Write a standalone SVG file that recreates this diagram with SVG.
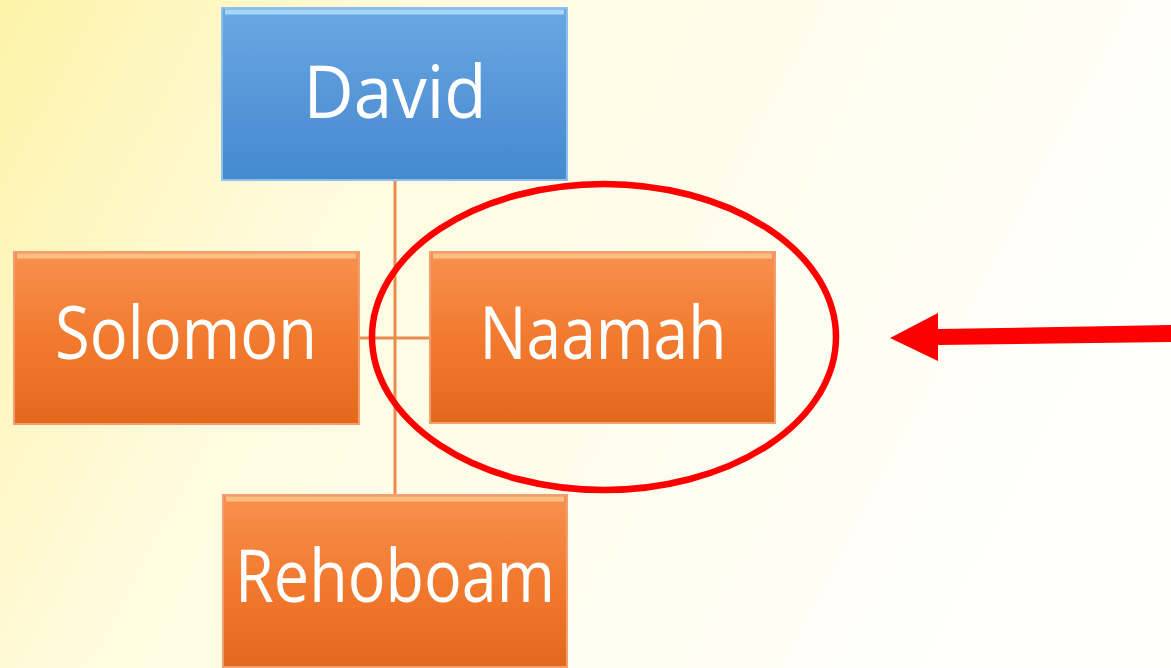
<svg xmlns="http://www.w3.org/2000/svg" width="1171" height="668" viewBox="0 0 1171 668">
<defs>
<linearGradient id="bg" x1="0" y1="0" x2="1" y2="0.3">
<stop offset="0" stop-color="#fdf3a8"/>
<stop offset="0.35" stop-color="#fffbe0"/>
<stop offset="1" stop-color="#fffffb"/>
</linearGradient>
<linearGradient id="gOr" x1="0" y1="0" x2="0" y2="1">
<stop offset="0" stop-color="#f7914f"/>
<stop offset="0.5" stop-color="#f27a2f"/>
<stop offset="1" stop-color="#e4681c"/>
</linearGradient>
<linearGradient id="gBl" x1="0" y1="0" x2="0" y2="1">
<stop offset="0" stop-color="#6aa6e2"/>
<stop offset="1" stop-color="#4489cf"/>
</linearGradient>
<style>
.or{fill:url(#gOr);stroke:#f0a070;stroke-width:2}
.bl{fill:url(#gBl);stroke:#8cc0ee;stroke-width:2}
.hiO{fill:none;stroke:#fcc98f;stroke-width:5;opacity:0.8}
.hiB{fill:none;stroke:#b8e4fb;stroke-width:5;opacity:0.8}
.t{font-family:"Open Sans","Liberation Sans",sans-serif;font-size:74px;fill:#ffffff;text-anchor:middle}
.con{stroke:#ea8c50;stroke-width:3;fill:none}
</style>
</defs>
<rect width="1171" height="668" fill="url(#bg)"/>
<g id="connectors">
<line class="con" x1="395" y1="180" x2="395" y2="495"/>
<line class="con" x1="359" y1="338" x2="430" y2="338"/>
</g>
<g id="david">
<rect class="bl" x="222" y="8" width="345" height="172"/>
<path class="hiB" d="M225 12 H564"/>
<text class="t" x="395" y="118" textLength="183" lengthAdjust="spacingAndGlyphs">David</text>
</g>
<g id="solomon">
<rect class="or" x="14" y="252" width="345" height="172"/>
<path class="hiO" d="M17 256 H356"/>
<text class="t" x="186" y="359" textLength="262" lengthAdjust="spacingAndGlyphs">Solomon</text>
</g>
<g id="naamah">
<rect class="or" x="430" y="252" width="345" height="171"/>
<path class="hiO" d="M433 256 H772"/>
<text class="t" x="603" y="359" textLength="247" lengthAdjust="spacingAndGlyphs">Naamah</text>
</g>
<g id="rehoboam">
<rect class="or" x="223" y="495" width="344" height="172"/>
<path class="hiO" d="M226 499 H564"/>
<text class="t" x="395" y="602" textLength="320" lengthAdjust="spacingAndGlyphs">Rehoboam</text>
</g>
<g id="highlight">
<ellipse cx="604" cy="337" rx="232" ry="153" fill="none" stroke="#ff0000" stroke-width="6.5"/>
<path d="M1171 325 L938 329 L938 313 L890 338 L938 361 L938 345 L1171 342 Z" fill="#ff0000"/>
</g>
</svg>
